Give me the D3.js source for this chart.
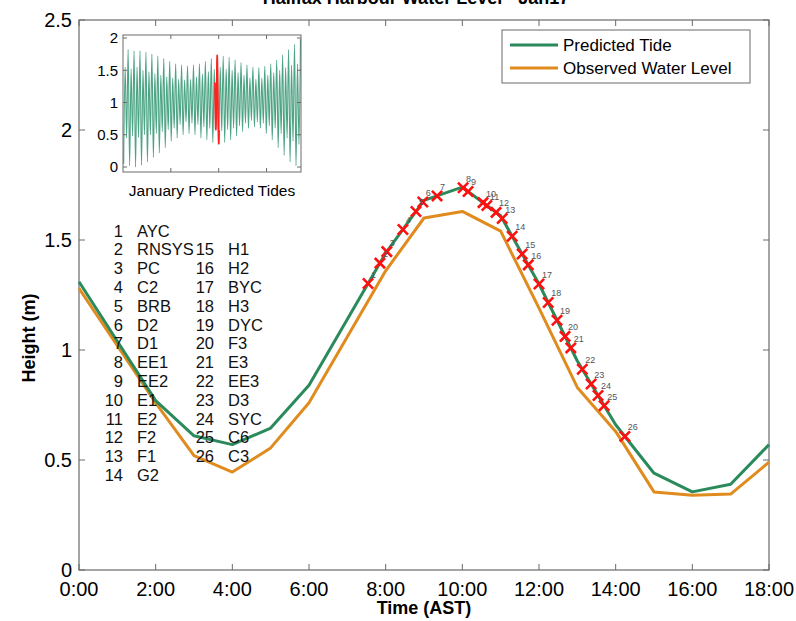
<!DOCTYPE html>
<html><head><meta charset="utf-8">
<script src="https://cdn.jsdelivr.net/npm/d3@7"></script>
<style>body{margin:0;background:#fff}svg{display:block}text{font-family:"Liberation Sans",Arial,sans-serif}</style>
</head><body><svg id="c" width="796" height="621"></svg>
<script>
// ---- data ----
const hours = [0,1,2,3,4,5,6,7,8,9,10,11,12,13,14,15,16,17,18];
const tickLabels = ["0:00","2:00","4:00","6:00","8:00","10:00","12:00","14:00","16:00","18:00"];
const predicted = [1.31,1.04,0.77,0.61,0.57,0.645,0.84,1.14,1.44,1.68,1.74,1.61,1.30,0.95,0.66,0.44,0.355,0.39,0.57];
const observed  = [1.28,1.02,0.76,0.52,0.445,0.555,0.76,1.06,1.36,1.60,1.63,1.54,1.19,0.83,0.63,0.355,0.34,0.345,0.49];
const stationTimes = [7.54,7.85,8.03,8.45,8.79,8.97,9.34,10.02,10.15,10.54,10.64,10.88,11.04,11.3,11.56,11.72,12.0,12.24,12.47,12.68,12.83,13.13,13.36,13.54,13.7,14.24];
const stationNames = ["AYC","RNSYS","PC","C2","BRB","D2","D1","EE1","EE2","E1","E2","F2","F1","G2","H1","H2","BYC","H3","DYC","F3","E3","EE3","D3","SYC","C6","C3"];
const yTicks = [0,0.5,1,1.5,2,2.5];
const insetYTicks = [0,0.5,1,1.5,2];
const insetXTicks = [200,400,600];
// January predicted tide extremes (low, high alternating), first low at hour 2.77, spacing 6.21 h
const insetLows = [0.05,0.45,0.02,0.48,0.0,0.46,0.03,0.5,0.08,0.5,0.15,0.52,0.22,0.55,0.3,0.58,0.4,0.6,0.45,0.66,0.5,0.7,0.52,0.68,0.5,0.66,0.45,0.62,0.42,0.6,0.38,0.57,0.35,0.56,0.38,0.58,0.42,0.6,0.48,0.64,0.55,0.68,0.6,0.72,0.62,0.7,0.6,0.68,0.52,0.64,0.42,0.6,0.3,0.52,0.18,0.45,0.08,0.4,0.02,0.35];
const insetHighs = [1.55,1.82,1.52,1.8,1.55,1.8,1.5,1.78,1.48,1.75,1.45,1.72,1.42,1.68,1.4,1.64,1.38,1.6,1.36,1.58,1.35,1.57,1.36,1.58,1.4,1.6,1.44,1.64,1.48,1.68,1.52,1.74,1.55,1.72,1.52,1.7,1.5,1.66,1.46,1.62,1.42,1.58,1.38,1.55,1.36,1.54,1.38,1.56,1.42,1.6,1.46,1.66,1.5,1.74,1.54,1.82,1.58,1.9,1.6,1.98];
const insetStart = 2.77, insetStep = 6.21, day17Start = 384;

// ---- layout ----
const svg = d3.select("#c");
const x = d3.scaleLinear().domain([0,18]).range([79,769]);
const y = d3.scaleLinear().domain([0,2.5]).range([570,20]);
const green = "#2a8a5c", orange = "#e08b1e", axisCol = "#6a6a6a";

// title (mostly cut off at top)
svg.append("text").attr("x",416).attr("y",4).attr("text-anchor","middle")
  .attr("font-size",18).attr("font-weight","bold").text("Halifax Harbour Water Level - Jan17");

// frame
svg.append("rect").attr("x",x(0)).attr("y",y(2.5)).attr("width",x(18)-x(0)).attr("height",y(0)-y(2.5))
  .attr("fill","none").attr("stroke",axisCol).attr("stroke-width",1.2);
const xt = d3.range(0,19,2);
xt.forEach((h,i)=>{
  svg.append("line").attr("x1",x(h)).attr("x2",x(h)).attr("y1",y(0)).attr("y2",y(0)-6).attr("stroke",axisCol);
  svg.append("line").attr("x1",x(h)).attr("x2",x(h)).attr("y1",y(2.5)).attr("y2",y(2.5)+6).attr("stroke",axisCol);
  svg.append("text").attr("x",x(h)).attr("y",596).attr("text-anchor","middle").attr("font-size",20).text(tickLabels[i]);
});
yTicks.forEach(v=>{
  svg.append("line").attr("x1",x(0)).attr("x2",x(0)+6).attr("y1",y(v)).attr("y2",y(v)).attr("stroke",axisCol);
  svg.append("line").attr("x1",x(18)).attr("x2",x(18)-6).attr("y1",y(v)).attr("y2",y(v)).attr("stroke",axisCol);
  svg.append("text").attr("x",72).attr("y",y(v)).attr("dy","0.36em").attr("text-anchor","end").attr("font-size",20).text(v);
});
svg.append("text").attr("x",424).attr("y",614).attr("text-anchor","middle").attr("font-size",18).attr("font-weight","bold").text("Time (AST)");
svg.append("text").attr("transform","translate(35,338) rotate(-90)").attr("text-anchor","middle").attr("font-size",18).attr("font-weight","bold").text("Height (m)");

// lines
const line = d3.line().x((d,i)=>x(hours[i])).y(d=>y(d));
svg.append("path").datum(observed).attr("d",line).attr("fill","none").attr("stroke",orange).attr("stroke-width",3).attr("stroke-linejoin","round");
svg.append("path").datum(predicted).attr("d",line).attr("fill","none").attr("stroke",green).attr("stroke-width",3).attr("stroke-linejoin","round");

// station markers on predicted tide
const interp = t => { const i = Math.min(Math.floor(t), hours.length-2); const f = t - hours[i]; return predicted[i]*(1-f)+predicted[i+1]*f; };
const sym = d3.symbol().type(d3.symbolX).size(70);
stationTimes.forEach((t,i)=>{
  svg.append("path").attr("d",sym()).attr("transform",`translate(${x(t)},${y(interp(t))})`)
    .attr("fill","none").attr("stroke","#ff1010").attr("stroke-width",2.6);
});
stationTimes.forEach((t,i)=>{
  svg.append("text").attr("x",x(t)+3).attr("y",y(interp(t))-6).attr("font-size",9)
    .attr("font-family","Liberation Serif, serif").attr("fill","#555").text(i+1);
});

// station list
stationNames.forEach((n,i)=>{
  const col = i<14 ? 0 : 1;
  const row = i<14 ? i : i-13;
  const ny = 230.6 + row*18.8;
  const nx = col===0 ? 123 : 214;
  svg.append("text").attr("x",nx).attr("y",ny).attr("dy","0.36em").attr("text-anchor","end").attr("font-size",16.5).attr("fill","#111").text(i+1);
  svg.append("text").attr("x",nx+14).attr("y",ny).attr("dy","0.36em").attr("font-size",16.5).attr("fill","#111").text(n);
});

// legend
svg.append("rect").attr("x",502).attr("y",30).attr("width",248).attr("height",53).attr("fill","#fff").attr("stroke",axisCol);
[["Predicted Tide",green,45],["Observed Water Level",orange,68]].forEach(([t,c,ly])=>{
  svg.append("line").attr("x1",510).attr("x2",558).attr("y1",ly).attr("y2",ly).attr("stroke",c).attr("stroke-width",3);
  svg.append("text").attr("x",563).attr("y",ly).attr("dy","0.36em").attr("font-size",17).text(t);
});

// inset
const ix = d3.scaleLinear().domain([0,744]).range([123,301]);
const iy = d3.scaleLinear().domain([0,2]).range([167,38]);
svg.append("rect").attr("x",123).attr("y",35).attr("width",178).attr("height",137).attr("fill","#fff");
svg.append("clipPath").attr("id","ic").append("rect").attr("x",123).attr("y",35).attr("width",178).attr("height",137);
const ext = [];
insetLows.forEach((l,j)=>{ ext.push(l); ext.push(insetHighs[j]); });
const g = svg.append("g").attr("clip-path","url(#ic)");
g.append("path").datum(ext).attr("d",d3.line().x((d,k)=>ix(insetStart+k*insetStep)).y(d=>iy(d)).curve(d3.curveMonotoneX))
  .attr("fill","none").attr("stroke","#3a9a78").attr("stroke-width",1.1).attr("stroke-opacity",0.9);
g.append("path").datum(predicted).attr("d",d3.line().x((d,i)=>ix(day17Start+hours[i])).y(d=>iy(d)))
  .attr("fill","none").attr("stroke","#ff2020").attr("stroke-width",1.6);
svg.append("rect").attr("x",123).attr("y",35).attr("width",178).attr("height",137).attr("fill","none").attr("stroke",axisCol);
insetYTicks.forEach(v=>{
  svg.append("line").attr("x1",123).attr("x2",127).attr("y1",iy(v)).attr("y2",iy(v)).attr("stroke",axisCol);
  svg.append("line").attr("x1",301).attr("x2",297).attr("y1",iy(v)).attr("y2",iy(v)).attr("stroke",axisCol);
  svg.append("text").attr("x",118).attr("y",iy(v)).attr("dy","0.36em").attr("text-anchor","end").attr("font-size",15).text(v);
});
insetXTicks.forEach(v=>{
  svg.append("line").attr("x1",ix(v)).attr("x2",ix(v)).attr("y1",172).attr("y2",168).attr("stroke",axisCol);
  svg.append("line").attr("x1",ix(v)).attr("x2",ix(v)).attr("y1",35).attr("y2",39).attr("stroke",axisCol);
});
svg.append("text").attr("x",212).attr("y",190).attr("dy","0.36em").attr("text-anchor","middle").attr("font-size",15.5).text("January Predicted Tides");
</script></body></html>
